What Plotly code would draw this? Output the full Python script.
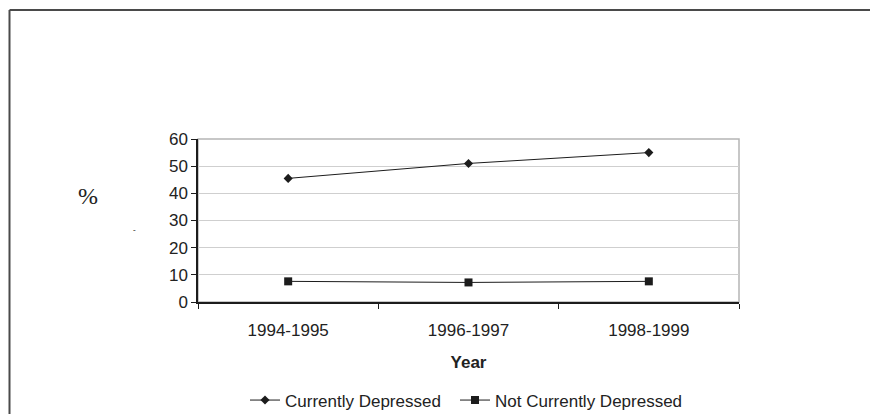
import plotly.graph_objects as go

# Survey periods and percentages
periods = ["1994-1995", "1996-1997", "1998-1999"]
currently_depressed = [45.5, 51, 55]
not_currently_depressed = [7.6, 7.2, 7.6]
y_ticks = [0, 10, 20, 30, 40, 50, 60]

INK = "#1c1c1c"
TEXT = "#222222"
GRID = "#cfcfcf"
FS = 17

fig = go.Figure()
fig.add_trace(go.Scatter(
    x=periods, y=currently_depressed, name="Currently Depressed",
    mode="lines+markers", legend="legend",
    line=dict(color=INK, width=1),
    marker=dict(symbol="diamond", size=7, color=INK),
))
fig.add_trace(go.Scatter(
    x=periods, y=not_currently_depressed, name="Not Currently Depressed",
    mode="lines+markers", legend="legend2",
    line=dict(color=INK, width=1),
    marker=dict(symbol="square", size=8, color=INK),
))

W, H = 870, 414
L, R, T, B = 198, 131, 139, 112
pw, ph = W - L - R, H - T - B


def px_x(x):
    return (x - L) / pw


def px_y(y):
    return (H - B - y) / ph


legend_style = dict(
    orientation="h", xanchor="left", y=px_y(400.5), yanchor="middle",
    font=dict(size=FS, color=TEXT), bgcolor="rgba(0,0,0,0)", itemwidth=30,
)

fig.update_layout(
    width=W, height=H,
    margin=dict(l=L, r=R, t=T, b=B, autoexpand=False),
    paper_bgcolor="white", plot_bgcolor="white",
    font=dict(family="Liberation Sans, Arial, sans-serif", size=FS, color=TEXT),
    showlegend=True,
    legend=dict(x=px_x(245), **legend_style),
    legend2=dict(x=px_x(455), **legend_style),
    xaxis=dict(
        type="category", range=[-0.5, 2.5], tickson="boundaries",
        ticks="outside", ticklen=5, tickcolor=INK, tickwidth=1,
        ticklabelstandoff=12,
        showline=True, linecolor=INK, linewidth=1.5,
        showgrid=False, zeroline=False,
        tickfont=dict(size=FS, color=TEXT),
        title=dict(text="<b>Year</b>", font=dict(size=FS, color=TEXT), standoff=17),
    ),
    yaxis=dict(
        range=[0, 60], tickvals=y_ticks,
        ticks="outside", ticklen=5, tickcolor=INK, tickwidth=1,
        showline=True, linecolor=INK, linewidth=1.5,
        showgrid=True, gridcolor=GRID, gridwidth=1.2,
        zeroline=False, tickfont=dict(size=FS, color=TEXT),
    ),
    shapes=[
        # light border around the plotting area
        dict(type="rect", xref="paper", yref="paper", x0=0, y0=0, x1=1, y1=1,
             line=dict(color="#b5b5b5", width=1.5), layer="below"),
        # outer frame (top and left edges)
        dict(type="line", xref="paper", yref="paper",
             x0=px_x(9.5), y0=px_y(10), x1=px_x(872), y1=px_y(10),
             line=dict(color="#4a4a4a", width=2)),
        dict(type="line", xref="paper", yref="paper",
             x0=px_x(9.5), y0=px_y(10), x1=px_x(9.5), y1=px_y(416),
             line=dict(color="#4a4a4a", width=2)),
    ],
    annotations=[
        dict(text="%", xref="paper", yref="paper", x=px_x(87.5), y=px_y(196),
             showarrow=False, xanchor="center", yanchor="middle",
             font=dict(family="Liberation Serif, Times New Roman, serif", size=24, color=TEXT)),
        dict(text="-", xref="paper", yref="paper", x=px_x(134), y=px_y(230),
             showarrow=False, xanchor="center", yanchor="middle",
             font=dict(family="Liberation Serif, serif", size=8, color=TEXT)),
    ],
)

fig.write_html("out.html")
